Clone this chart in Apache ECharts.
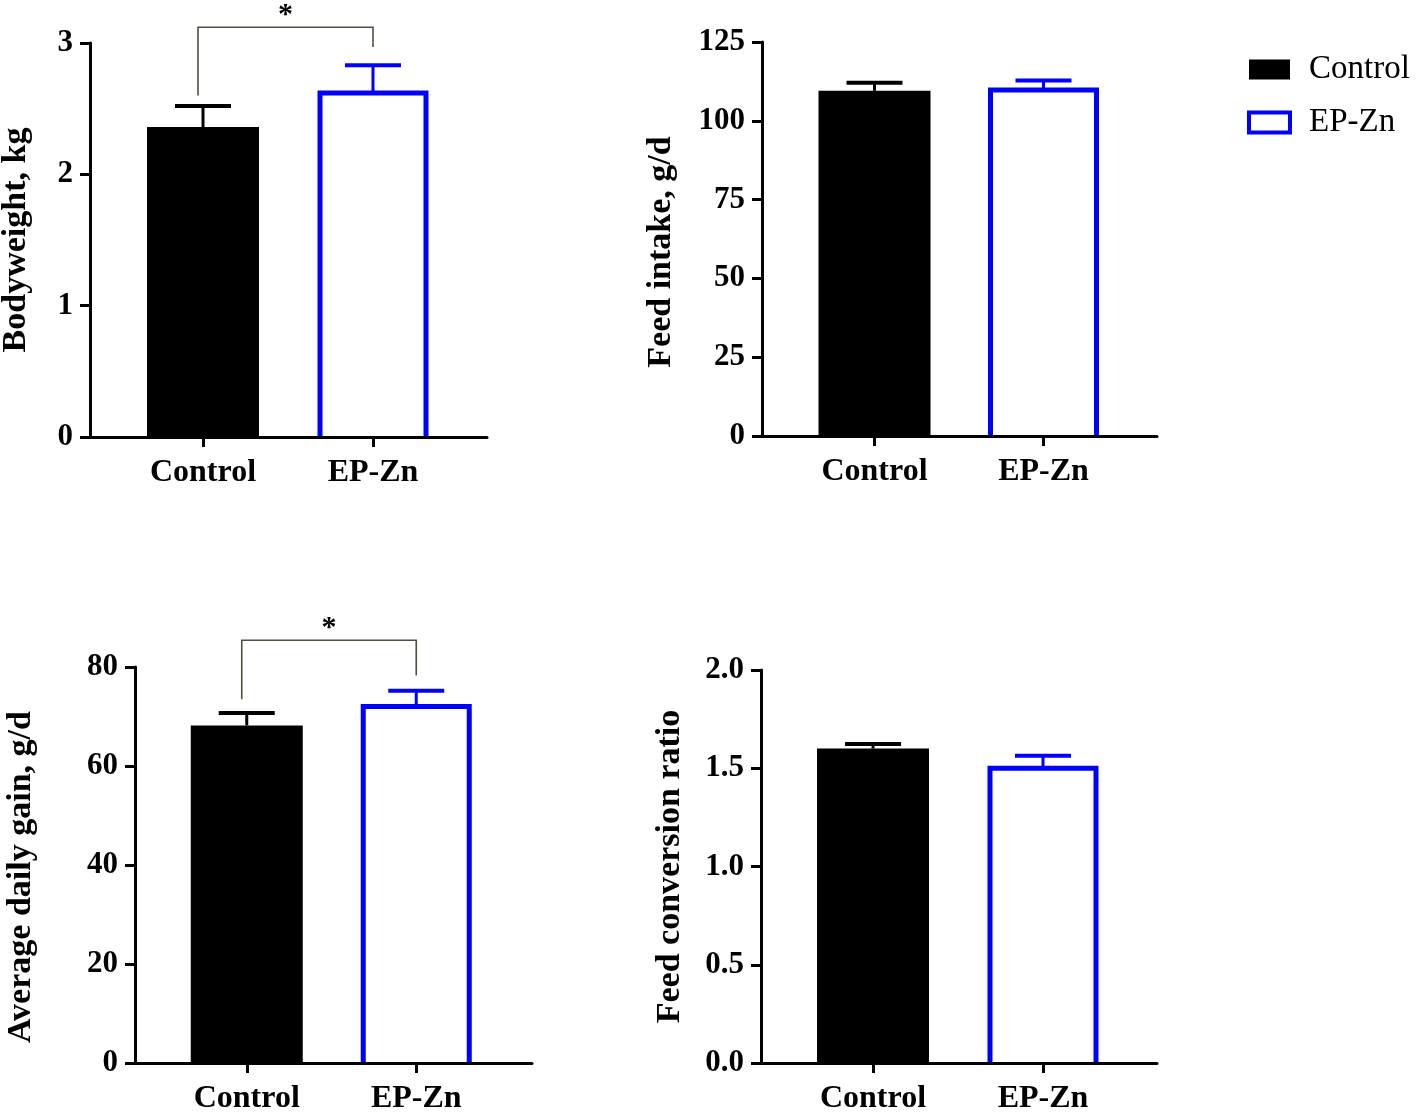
<!DOCTYPE html>
<html>
<head>
<meta charset="utf-8">
<script src="https://cdn.jsdelivr.net/npm/echarts@6/dist/echarts.min.js"></script>
<style>
html,body{margin:0;padding:0;background:#fff;}
#chart{width:1418px;height:1112px;}
</style>
</head>
<body>
<div id="chart"></div>
<script>
// ---- data ----
const groups = ['Control', 'EP-Zn'];

const bodyweightMean = [2.36, 2.62];
const bodyweightSEM  = [0.16, 0.21];
const bodyweightTicks = [0, 1, 2, 3];
const bodyweightSig = { label: '*', top: 3.12, left: 2.60, right: 2.97 };

const feedIntakeMean = [109.5, 109.8];
const feedIntakeSEM  = [2.6, 3.0];
const feedIntakeTicks = [0, 25, 50, 75, 100, 125];

const adgMean = [68.2, 72.0];
const adgSEM  = [2.5, 3.2];
const adgTicks = [0, 20, 40, 60, 80];
const adgSig = { label: '*', top: 85.4, left: 73.5, right: 78.3 };

const fcrMean = [1.60, 1.50];
const fcrSEM  = [0.023, 0.063];
const fcrTicks = [0, 0.5, 1.0, 1.5, 2.0];

// ---- style ----
const FONT = '"Liberation Serif", "Times New Roman", serif';
const BLUE = '#0000ff';
const BLACK = '#000000';

const panels = [
  { yName: 'Bodyweight, kg', mean: bodyweightMean, sem: bodyweightSEM, ticks: bodyweightTicks, dec: 0, sig: bodyweightSig,
    outer: { left: 90, top: 43, width: 397, height: 394 }, inner: { left: 118, width: 340 }, nameGap: 57, namePad: [0, 0, 0, 0] },
  { yName: 'Feed intake, g/d', mean: feedIntakeMean, sem: feedIntakeSEM, ticks: feedIntakeTicks, dec: 0, sig: null,
    outer: { left: 762, top: 42, width: 395, height: 394 }, inner: { left: 790, width: 338 }, nameGap: 84, namePad: [0, 26, 0, 0] },
  { yName: 'Average daily gain, g/d', mean: adgMean, sem: adgSEM, ticks: adgTicks, dec: 0, sig: adgSig,
    outer: { left: 135, top: 667, width: 397, height: 396 }, inner: { left: 162, width: 339 }, nameGap: 97, namePad: [0, 24, 0, 0] },
  { yName: 'Feed conversion ratio', mean: fcrMean, sem: fcrSEM, ticks: fcrTicks, dec: 1, sig: null,
    outer: { left: 761, top: 670, width: 396, height: 393 }, inner: { left: 788, width: 340 }, nameGap: 74, namePad: [0, 0, 0, 0] }
];

const grid = [], xAxis = [], yAxis = [], series = [];

panels.forEach((p, k) => {
  const gOuter = 2 * k, gInner = 2 * k + 1;
  const yMin = p.ticks[0], yMax = p.ticks[p.ticks.length - 1], yInt = p.ticks[1] - p.ticks[0];

  grid.push({ left: p.outer.left, top: p.outer.top, width: p.outer.width, height: p.outer.height,
    containLabel: false, outerBoundsMode: 'none' });
  grid.push({ left: p.inner.left, top: p.outer.top, width: p.inner.width, height: p.outer.height,
    containLabel: false, outerBoundsMode: 'none' });

  // outer axes: axis lines, y ticks, y labels, y name
  xAxis.push({
    gridIndex: gOuter, type: 'value', min: 0, max: 1, z: 10,
    axisLine: { show: true, onZero: false, lineStyle: { color: BLACK, width: 3 } },
    axisTick: { show: false }, axisLabel: { show: false }, splitLine: { show: false }
  });
  yAxis.push({
    gridIndex: gOuter, type: 'value', min: yMin, max: yMax, interval: yInt, z: 10,
    axisLine: { show: true, lineStyle: { color: BLACK, width: 3 } },
    axisTick: { show: true, length: 10, lineStyle: { color: BLACK, width: 3 } },
    axisLabel: {
      show: true, margin: 17, color: BLACK, fontFamily: FONT, fontWeight: 'bold', fontSize: 31,
      formatter: v => v.toFixed(p.dec)
    },
    splitLine: { show: false },
    name: p.yName, nameLocation: 'middle', nameGap: p.nameGap, nameRotate: 90,
    nameTextStyle: { color: BLACK, fontFamily: FONT, fontWeight: 'bold', fontSize: 34, padding: p.namePad }
  });

  // inner axes: categories
  xAxis.push({
    gridIndex: gInner, type: 'category', data: groups, boundaryGap: true, z: 10,
    axisLine: { show: false },
    axisTick: { show: true, alignWithLabel: true, length: 10, lineStyle: { color: BLACK, width: 3 } },
    axisLabel: { show: true, margin: 20, color: BLACK, fontFamily: FONT, fontWeight: 'bold', fontSize: 32, interval: 0 },
    splitLine: { show: false }
  });
  yAxis.push({
    gridIndex: gInner, type: 'value', min: yMin, max: yMax, interval: yInt, show: false,
    splitLine: { show: false }
  });

  // Control filled bar
  series.push({
    name: groups[0], type: 'bar', xAxisIndex: gInner, yAxisIndex: gInner,
    data: [p.mean[0], '-'], barWidth: 112, barGap: '-100%',
    itemStyle: { color: BLACK }, z: 2
  });

  // EP-Zn hollow bar (open at the baseline)
  series.push({
    name: groups[1], type: 'custom', xAxisIndex: gInner, yAxisIndex: gInner,
    data: [[1, p.mean[1]]], encode: { x: 0, y: 1 }, z: 2,
    itemStyle: { color: BLUE },
    renderItem: (params, api) => {
      const i = api.value(0), v = api.value(1);
      const b = api.coord([i, yMin]);
      const t = api.coord([i, v]);
      const hw = 53;
      return {
        type: 'polyline',
        shape: { points: [[b[0] - hw, b[1]], [b[0] - hw, t[1]], [b[0] + hw, t[1]], [b[0] + hw, b[1]]] },
        style: { fill: 'none', stroke: BLUE, lineWidth: 5, lineJoin: 'miter' }
      };
    }
  });

  // error bars (upper SEM)
  series.push({
    name: 'err' + k, type: 'custom', xAxisIndex: gInner, yAxisIndex: gInner,
    data: groups.map((g, i) => [i, p.mean[i], p.sem[i]]), encode: { x: 0, y: 1 }, z: 3,
    renderItem: (params, api) => {
      const i = api.value(0), m = api.value(1), s = api.value(2);
      const b = api.coord([i, m]);
      const t = api.coord([i, m + s]);
      const c = i === 0 ? BLACK : BLUE;
      return {
        type: 'group',
        children: [
          { type: 'line', shape: { x1: b[0], y1: b[1], x2: t[0], y2: t[1] }, style: { stroke: c, lineWidth: 3 } },
          { type: 'line', shape: { x1: t[0] - 28, y1: t[1], x2: t[0] + 28, y2: t[1] }, style: { stroke: c, lineWidth: 4 } }
        ]
      };
    }
  });

  // significance bracket
  if (p.sig) {
    series.push({
      name: 'sig' + k, type: 'custom', xAxisIndex: gInner, yAxisIndex: gInner,
      data: [[0, p.sig.top, p.sig.left, p.sig.right]], encode: { x: 0, y: 1 }, z: 3, clip: false,
      renderItem: (params, api) => {
        const top = api.value(1), lv = api.value(2), rv = api.value(3);
        const l = api.coord([0, lv]);
        const r = api.coord([1, rv]);
        const ty = api.coord([0, top])[1];
        const xl = l[0] - 5, xr = r[0];
        return {
          type: 'group',
          children: [
            { type: 'polyline', shape: { points: [[xl, l[1]], [xl, ty], [xr, ty], [xr, r[1]]] },
              style: { fill: 'none', stroke: '#4f4f40', lineWidth: 1.6 } },
            { type: 'text', style: { text: p.sig.label, x: (xl + xr) / 2, y: ty - 12, align: 'center', verticalAlign: 'middle',
              font: 'bold 30px ' + FONT, fill: BLACK } }
          ]
        };
      }
    });
  }
});

const option = {
  animation: false,
  backgroundColor: '#ffffff',
  legend: {
    orient: 'vertical', left: 1247, top: 53, padding: 0,
    itemWidth: 41, itemHeight: 20, itemGap: 20,
    selectedMode: false,
    textStyle: { color: BLACK, fontFamily: FONT, fontSize: 33, padding: [0, 0, 0, 14] },
    data: [
      { name: groups[0], icon: 'rect', itemStyle: { color: BLACK, borderWidth: 0 } },
      { name: groups[1], icon: 'rect', itemStyle: { color: '#ffffff', borderColor: BLUE, borderWidth: 4 } }
    ]
  },
  grid, xAxis, yAxis, series
};

const chart = echarts.init(document.getElementById('chart'), null, { renderer: 'canvas' });
chart.setOption(option);
</script>
</body>
</html>
